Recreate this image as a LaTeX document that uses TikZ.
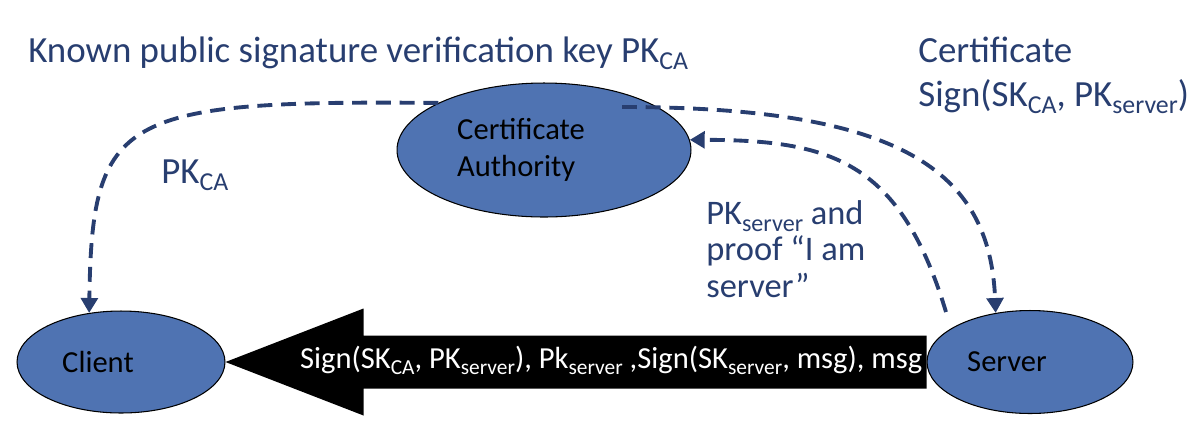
\documentclass[tikz,border=0pt]{standalone}
\usepackage{fontspec}
\setmainfont{Carlito}
\usetikzlibrary{arrows.meta, calc, positioning, shapes.geometric}
\definecolor{entityblue}{RGB}{79,115,178}
\definecolor{noteblue}{RGB}{40,62,112}
\newcommand{\bignote}{\fontsize{21}{24.5}\selectfont}
\newcommand{\midnote}{\fontsize{19.6}{20.6}\selectfont}
\newcommand{\entfont}{\fontsize{17.4}{21}\selectfont}
\makeatletter
\newcommand{\low}[1]{\raisebox{-0.2em}{\fontsize{\the\dimexpr0.7\dimexpr\f@size pt\relax\relax}{0pt}\selectfont #1}}
\makeatother

\begin{document}
\begin{tikzpicture}[x=0.02cm, y=-0.02cm,
    entity/.style={ellipse, draw=black, line width=0.6pt, fill=entityblue, inner sep=0pt,
        label={[font=\entfont, align=left, xshift=-0.46cm]center:#1}},
    flow/.style={noteblue, line width=2.2pt, dash pattern=on 8.5pt off 5pt,
        -{Triangle[length=8.5pt, width=9.5pt]}},
    note/.style={noteblue, inner sep=0pt, align=left, anchor=base west}]
    \useasboundingbox (0,0) rectangle (1200,434);

    % Parties
    \node[entity={Certificate\\Authority}, minimum width=5.88cm, minimum height=2.68cm] (ca) at (544,150) {};
    \node[entity=Client, minimum width=4.16cm, minimum height=2.04cm] (client) at (121,362) {};
    \node[entity=Server, minimum width=4.12cm, minimum height=2.06cm] (server) at (1030,362) {};

    % Notes (base = last line)
    \node[note, font=\bignote] (known) at (28,62) {Known public signature verification key PK\low{CA}};
    \node[note, font=\bignote] (cert) at (918,106) {Certificate\\Sign(SK\low{CA}, PK\low{server})};
    \node[note, font=\bignote] (pkca) at (161,183) {PK\low{CA}};
    \node[note, font=\midnote] (proof) at (706,297) {PK\low{server} and\\proof “I am\\server”};

    % Key exchange
    \draw[flow] (ca.156) .. controls (120,100) and (92,115) .. (client.123);
    \coordinate (castart) at ($(ca.center)+(78,-43)$);
    \draw[flow] (castart) .. controls (900,107) and (990,170) .. (server.125);
    \coordinate (srvstart) at ($(server.center)+(-84,-50)$);
    \draw[flow] (srvstart) .. controls (900,160) and (830,140) .. (ca.4);

    % Message to client
    \fill[black] (client.east) -- ++(138,-53.5) -- ++(0,27) coordinate (s1) -- (s1 -| server.west)
        -- ++(0,53) coordinate (s2) -- (s2 -| s1) -- ++(0,27) -- cycle;
    \node[anchor=east, inner sep=0pt, text=white, font=\fontsize{17.4}{21}\selectfont] (msg) at ($(server.west)+(-4,-2)$)
        {Sign(SK\low{CA}, PK\low{server}), Pk\low{server} ,Sign(SK\low{server}, msg), msg};
\end{tikzpicture}
\end{document}
